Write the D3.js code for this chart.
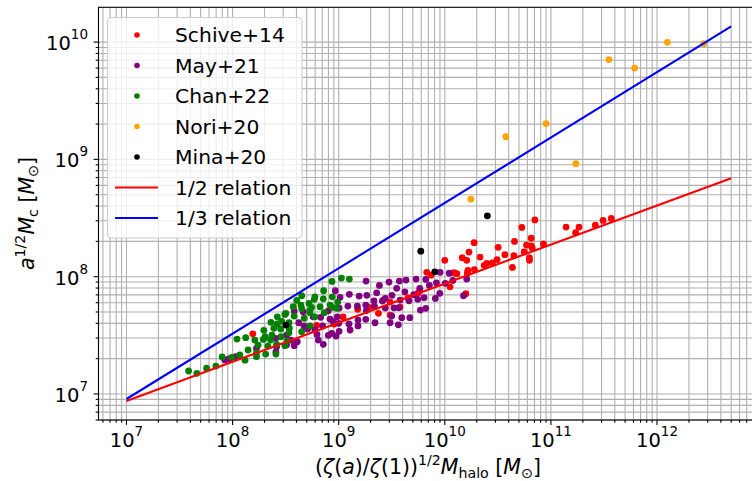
<!DOCTYPE html>
<html><head><meta charset="utf-8">
<script src="https://cdn.jsdelivr.net/npm/d3@7"></script>
<style>body{margin:0;background:#fff;} svg{display:block;font-family:"DejaVu Sans",sans-serif;}</style>
</head><body><svg id="c" width="752" height="481"></svg>
<script>
// ---------------- data ----------------
const xTicks = [1e7, 1e8, 1e9, 1e10, 1e11, 1e12];
const xTickExp = ["7", "8", "9", "10", "11", "12"];
const yTicks = [1e7, 1e8, 1e9, 1e10];
const yTickExp = ["7", "8", "9", "10"];
const seriesNames = ["Schive+14", "May+21", "Chan+22", "Nori+20", "Mina+20"];
const lineNames = ["1/2 relation", "1/3 relation"];

const schive14 = [[7.06e10,3.05e8],[5.32e10,2.63e8],[1.39e11,2.65e8],[1.84e11,2.65e8],[2.62e11,2.75e8],[3.10e11,3.02e8],[3.71e11,3.14e8],[1.71e11,2.37e8],[1.89e10,1.95e8],[4.54e10,2.00e8],[6.52e10,2.13e8],[5.89e10,1.86e8],[6.52e10,1.83e8],[8.51e10,1.90e8],[3.18e10,1.78e8],[1.69e10,1.62e8],[5.60e10,1.63e8],[6.67e10,1.76e8],[3.68e10,1.54e8],[2.15e10,1.47e8],[4.48e10,1.51e8],[6.28e10,1.45e8],[6.28e10,1.38e8],[1.46e10,1.45e8],[1.61e10,1.38e8],[1.0e10,1.38e8],[3.11e10,1.40e8],[2.81e10,1.31e8],[2.49e10,1.30e8],[2.35e10,1.25e8],[4.34e10,1.20e8],[1.90e10,1.15e8],[1.65e10,1.13e8],[1.63e10,1.07e8],[6.76e9,1.09e8],[7.43e9,1.03e8],[1.22e10,1.08e8],[1.30e10,1.06e8],[1.12e10,8.2e7],[1.58e10,7.15e7],[5.81e9,7.59e7],[1.92e9,5.48e7],[1.51e9,5.27e7],[3.05e9,4.71e7],[2.37e9,4.87e7],[1.10e9,4.53e7],[9.03e8,3.95e7],[1.55e8,3.26e7],[6.2e8,3.85e7],[2.62e9,6.32e7],[3.05e9,6.08e7],[3.79e9,5.51e7],[4.51e9,6.58e7],[5.6e9,7.25e7]];

const may21 = [[1.10e10,1.07e8],[9.03e9,1.09e8],[5.36e9,9.54e7],[4.31e9,9.35e7],[3.73e9,9.17e7],[2.98e9,9.0e7],[2.42e9,8.43e7],[1.81e9,9.17e7],[7.16e9,8.43e7],[8.34e9,8.87e7],[1.01e10,8.77e7],[1.19e10,9.30e7],[1.61e10,9.54e7],[1.50e10,6.88e7],[5.81e9,7.95e7],[3.52e9,7.95e7],[4.20e9,7.43e7],[3.18e9,6.93e7],[2.75e9,6.53e7],[4.60e9,6.23e7],[3.79e9,6.32e7],[2.28e9,7.29e7],[1.84e9,6.93e7],[1.56e9,6.84e7],[1.26e9,7.07e7],[1.03e9,6.67e7],[9.29e8,7.59e7],[2.15e9,6.23e7],[2.58e9,6.19e7],[5.56e9,6.41e7],[6.38e9,6.61e7],[8.97e9,7.21e7],[8.15e9,6.53e7],[5.10e9,7.02e7],[2.17e9,5.62e7],[1.80e9,5.73e7],[1.50e9,5.62e7],[1.22e9,5.62e7],[1.01e9,5.40e7],[3.32e9,5.43e7],[3.68e9,5.43e7],[2.75e9,5.40e7],[1.82e9,5.12e7],[1.80e9,4.33e7],[2.20e9,4.05e7],[3.16e9,4.62e7],[3.93e9,4.47e7],[4.68e9,4.47e7],[3.05e9,4.05e7],[3.65e9,3.89e7],[5.89e9,5.19e7],[6.62e9,5.37e7],[1.52e9,4.27e7],[1.52e9,3.80e7],[1.25e9,3.95e7],[1.28e9,3.51e7],[1.0e9,4.0e7],[9.7e8,4.55e7],[8.59e8,3.29e7],[9.44e8,3.12e7],[1.01e9,3.42e7],[6.62e9,9.48e7],[3.81e8,5.09e7],[4.63e8,5.02e7],[5.75e8,4.55e7],[6.76e8,4.50e7],[8.28e8,4.35e7],[4.20e8,4.05e7],[4.71e8,3.80e7],[5.10e8,3.58e7],[6.24e8,3.22e7],[7.16e8,2.65e7],[3.81e8,2.58e7],[3.23e8,2.63e7],[3.55e8,2.88e7],[2.56e8,2.28e7],[2.60e8,2.53e7],[7.98e8,3.16e7],[7.98e8,5.12e7],[7.06e8,3.80e7],[5.97e8,3.51e7],[9.23e7,1.99e7],[1.07e8,2.08e7],[8.45e7,1.95e7],[3.23e8,3.18e7],[4.07e8,2.79e7],[6.42e8,2.88e7],[8.89e8,4.13e7],[1.68e8,2.45e7],[2.55e8,2.98e7]];

const chan22 = [[3.85e7,1.57e7],[4.61e7,1.50e7],[5.69e7,1.66e7],[6.96e7,1.73e7],[7.98e7,2.07e7],[9.85e7,2.05e7],[1.17e8,2.15e7],[1.31e8,1.94e7],[1.40e8,2.37e7],[1.68e8,2.08e7],[1.74e8,2.61e7],[2.05e8,2.19e7],[2.15e8,2.56e7],[2.56e8,2.19e7],[2.60e8,2.65e7],[1.10e8,2.94e7],[1.33e8,3.02e7],[1.62e8,2.88e7],[1.95e8,2.92e7],[1.97e8,3.49e7],[2.30e8,4.08e7],[2.35e8,3.18e7],[2.64e8,4.55e7],[2.84e8,3.58e7],[3.11e8,4.77e7],[3.40e8,3.33e7],[3.40e8,4.05e7],[3.73e8,5.54e7],[3.81e8,4.62e7],[4.48e8,6.88e7],[4.41e8,5.73e7],[5.25e8,5.92e7],[5.89e8,6.41e7],[6.67e8,5.54e7],[7.21e8,7.59e7],[8.28e8,5.73e7],[8.71e8,6.74e7],[1.06e9,9.73e7],[1.26e9,9.54e7],[8.65e8,9.12e7],[5.36e8,3.80e7],[5.97e8,4.55e7],[3.11e8,2.58e7],[3.18e8,4.87e7],[2.90e8,4.16e7],[3.43e8,3.63e7],[4.73e8,4.42e7],[5.36e8,5.16e7],[2.45e8,3.63e7],[2.03e8,3.08e7],[2.28e8,2.88e7],[1.68e8,2.25e7],[2.86e8,3.08e7],[2.64e8,3.95e7],[3.27e8,2.84e7],[9.79e8,6.08e7],[8.77e8,5.48e7],[5.56e8,5.48e7],[4.48e8,5.33e7],[7.31e8,4.93e7],[5.36e8,4.93e7],[4.48e8,3.40e7],[5.97e8,6.74e7],[7.16e8,6.48e7],[4.02e8,6.28e7],[9.57e8,5.37e7]];

const nori20 = [[1.76e10,4.58e8],[3.76e10,1.56e9],[9.0e10,2.02e9],[1.72e11,9.2e8],[3.52e11,7.1e9],[6.15e11,6.0e9],[1.25e12,9.95e9],[2.75e12,9.7e9]];

const mina20 = [[2.52e10,3.30e8],[5.94e9,1.65e8],[8.05e9,1.10e8],[3.18e8,3.87e7]];

const relHalf = [[1e7,8.72e6],[5e12,6.92e8]];
const relThird = [[1e7,9.06e6],[5e12,1.36e10]];

// ---------------- drawing ----------------
const svg = d3.select("#c");
const L = 98.5, R = 761, T = 7.3, B = 420;
const x = d3.scaleLog().domain([5.45e6, 9.55e12]).range([L, R]);
const y = d3.scaleLog().domain([6.0e6, 1.98e10]).range([B, T]);

svg.append("rect").attr("width", 752).attr("height", 481).attr("fill", "#fff");

function minorTicks(scale, lo, hi) {
  const out = [];
  const [d0, d1] = scale.domain();
  for (let e = lo; e <= hi; e++) for (let m = 1; m <= 9; m++) {
    const v = m * Math.pow(10, e);
    if (v >= d0 && v <= d1) out.push(v);
  }
  return out;
}
const xAll = minorTicks(x, 6, 12);
const yAll = minorTicks(y, 6, 10);

const grid = svg.append("g").attr("stroke", "#b0b0b0").attr("stroke-width", 1.1);
grid.selectAll("line.gx").data(xAll).join("line")
  .attr("x1", d => x(d)).attr("x2", d => x(d)).attr("y1", T).attr("y2", B);
grid.selectAll("line.gy").data(yAll).join("line")
  .attr("y1", d => y(d)).attr("y2", d => y(d)).attr("x1", L).attr("x2", R);

svg.append("clipPath").attr("id", "clip").append("rect")
  .attr("x", L).attr("y", T).attr("width", R - L).attr("height", B - T);
const plot = svg.append("g").attr("clip-path", "url(#clip)");

const series = [
  {data: schive14, color: "#ff0000"},
  {data: may21, color: "#800080"},
  {data: chan22, color: "#008000"},
  {data: nori20, color: "#ffa500"},
  {data: mina20, color: "#000000"}
];
series.forEach(s => {
  plot.append("g").selectAll("circle").data(s.data).join("circle")
    .attr("cx", d => x(d[0])).attr("cy", d => y(d[1])).attr("r", 3.4)
    .attr("fill", s.color);
});
const line = d3.line().x(d => x(d[0])).y(d => y(d[1]));
plot.append("path").datum(relHalf).attr("d", line).attr("fill", "none")
  .attr("stroke", "#ff0000").attr("stroke-width", 2.1);
plot.append("path").datum(relThird).attr("d", line).attr("fill", "none")
  .attr("stroke", "#0000ff").attr("stroke-width", 2.1);

// spines
const sp = svg.append("g").attr("stroke", "#000").attr("stroke-width", 1.1).attr("fill", "none");
sp.append("rect").attr("x", L).attr("y", T).attr("width", R - L).attr("height", B - T);

// ticks
const tk = svg.append("g").attr("stroke", "#000").attr("stroke-width", 1.1);
tk.selectAll("line.xm").data(xAll).join("line")
  .attr("x1", d => x(d)).attr("x2", d => x(d)).attr("y1", B)
  .attr("y2", d => xTicks.includes(d) ? B + 4.9 : B + 2.8);
tk.selectAll("line.ym").data(yAll).join("line")
  .attr("y1", d => y(d)).attr("y2", d => y(d)).attr("x1", L)
  .attr("x2", d => yTicks.includes(d) ? L - 4.9 : L - 2.8);

const FS = 19.5, SS = 13.5, LFS = 20.3, AFS = 20.5, ASS = 14.2;
const xl = svg.append("g").attr("font-size", FS).attr("fill", "#000");
xTicks.forEach((v, i) => {
  const t = xl.append("text").attr("x", x(v)).attr("y", 447).attr("text-anchor", "middle");
  t.append("tspan").text("10");
  t.append("tspan").attr("font-size", SS).attr("dy", -11).text(xTickExp[i]);
});
yTicks.forEach((v, i) => {
  const t = xl.append("text").attr("x", 88).attr("y", y(v) + 8).attr("text-anchor", "end");
  t.append("tspan").text("10");
  t.append("tspan").attr("font-size", SS).attr("dy", -11).text(yTickExp[i]);
});

// axis labels
const xt = svg.append("text").attr("x", 428).attr("y", 474).attr("text-anchor", "middle")
  .attr("font-size", AFS);
xt.append("tspan").text("(");
xt.append("tspan").attr("font-style", "italic").text("ζ");
xt.append("tspan").text("(");
xt.append("tspan").attr("font-style", "italic").text("a");
xt.append("tspan").text(")/");
xt.append("tspan").attr("font-style", "italic").text("ζ");
xt.append("tspan").text("(1))");
xt.append("tspan").attr("font-size", ASS).attr("dy", -9).text("1/2");
xt.append("tspan").attr("font-style", "italic").attr("dy", 9).text("M");
xt.append("tspan").attr("font-size", ASS).attr("dy", 4).text("halo");
xt.append("tspan").attr("dy", -4).text(" [");
xt.append("tspan").attr("font-style", "italic").text("M");
xt.append("tspan").attr("font-size", ASS).attr("dy", 4).text("⊙");
xt.append("tspan").attr("dy", -4).text("]");

const yt = svg.append("text").attr("transform", "translate(34,213.5) rotate(-90)")
  .attr("text-anchor", "middle").attr("font-size", AFS);
yt.append("tspan").attr("font-style", "italic").text("a");
yt.append("tspan").attr("font-size", ASS).attr("dy", -9).text("1/2");
yt.append("tspan").attr("font-style", "italic").attr("dy", 9).text("M");
yt.append("tspan").attr("font-size", ASS).attr("dy", 4).text("c");
yt.append("tspan").attr("dy", -4).text(" [");
yt.append("tspan").attr("font-style", "italic").text("M");
yt.append("tspan").attr("font-size", ASS).attr("dy", 4).text("⊙");
yt.append("tspan").attr("dy", -4).text("]");

// legend
const lg = svg.append("g");
lg.append("rect").attr("x", 107.5).attr("y", 17.5).attr("width", 194.5).attr("height", 220.5)
  .attr("rx", 4).attr("fill", "#fff").attr("fill-opacity", 0.8)
  .attr("stroke", "#cccccc").attr("stroke-width", 1.1);
const rowY = i => 35 + i * 30.5;
seriesNames.forEach((n, i) => {
  lg.append("circle").attr("cx", 137).attr("cy", rowY(i)).attr("r", 2.8).attr("fill", series[i].color);
  lg.append("text").attr("x", 175).attr("y", rowY(i) + 7.3).attr("font-size", LFS).text(n);
});
const lineColors = ["#ff0000", "#0000ff"];
lineNames.forEach((n, j) => {
  const i = 5 + j;
  lg.append("line").attr("x1", 115).attr("x2", 158).attr("y1", rowY(i)).attr("y2", rowY(i))
    .attr("stroke", lineColors[j]).attr("stroke-width", 2.1);
  lg.append("text").attr("x", 175).attr("y", rowY(i) + 7.3).attr("font-size", LFS).text(n);
});
</script></body></html>
